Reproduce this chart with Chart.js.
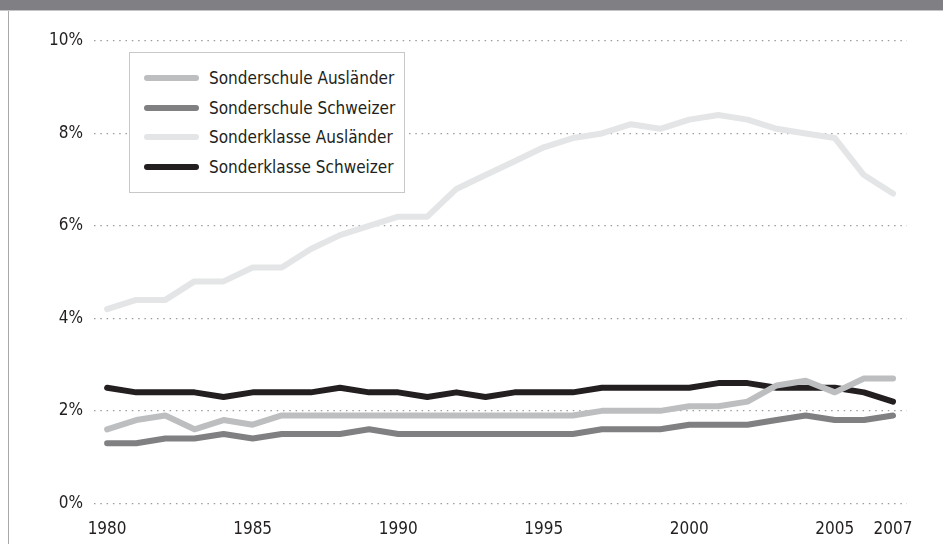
<!DOCTYPE html>
<html>
<head>
<meta charset="utf-8">
<script src="https://cdn.jsdelivr.net/npm/chart.js@4"></script>
<style>
  html, body { margin: 0; padding: 0; background: #fff; }
  #wrap { position: relative; width: 943px; height: 544px; overflow: hidden; }
  #topbar { position: absolute; left: 0; top: 0; width: 943px; height: 10px; background: #808084; border-bottom: 1px solid #c4c4c6; }
  #leftline { position: absolute; left: 8px; top: 11px; width: 1px; height: 533px; background: #a9a9ab; }
  #chart { position: absolute; left: 0; top: 0; }
  #legend { position: absolute; left: 129px; top: 52px; width: 276px; height: 141px; border: 1px solid #c8c8ca; box-sizing: border-box; background: #fff;
            font-family: 'Liberation Sans Narrow', 'DejaVu Sans Condensed', 'Open Sans', sans-serif; font-size: 17px; color: #231f20; }
  .row { position: absolute; left: 0; height: 20px; line-height: 20px; white-space: nowrap; }
  .sw { position: absolute; left: 14px; top: 7px; width: 55px; height: 6px; border-radius: 3px; }
  .tx { position: absolute; left: 79px; top: 0; }
</style>
</head>
<body>
<div id="wrap">
  <div id="topbar"></div>
  <div id="leftline"></div>
  <canvas id="chart" width="943" height="544"></canvas>
  <div id="legend"></div>
</div>
<script>
const years = [1980, 1981, 1982, 1983, 1984, 1985, 1986, 1987, 1988, 1989, 1990, 1991, 1992, 1993,
               1994, 1995, 1996, 1997, 1998, 1999, 2000, 2001, 2002, 2003, 2004, 2005, 2006, 2007];
const sonderschuleAuslaender = [1.6, 1.8, 1.9, 1.6, 1.8, 1.7, 1.9, 1.9, 1.9, 1.9, 1.9, 1.9, 1.9, 1.9,
                                1.9, 1.9, 1.9, 2.0, 2.0, 2.0, 2.1, 2.1, 2.2, 2.55, 2.65, 2.4, 2.7, 2.7];
const sonderschuleSchweizer = [1.3, 1.3, 1.4, 1.4, 1.5, 1.4, 1.5, 1.5, 1.5, 1.6, 1.5, 1.5, 1.5, 1.5,
                               1.5, 1.5, 1.5, 1.6, 1.6, 1.6, 1.7, 1.7, 1.7, 1.8, 1.9, 1.8, 1.8, 1.9];
const sonderklasseAuslaender = [4.2, 4.4, 4.4, 4.8, 4.8, 5.1, 5.1, 5.5, 5.8, 6.0, 6.2, 6.2, 6.8, 7.1,
                                7.4, 7.7, 7.9, 8.0, 8.2, 8.1, 8.3, 8.4, 8.3, 8.1, 8.0, 7.9, 7.1, 6.7];
const sonderklasseSchweizer = [2.5, 2.4, 2.4, 2.4, 2.3, 2.4, 2.4, 2.4, 2.5, 2.4, 2.4, 2.3, 2.4, 2.3,
                               2.4, 2.4, 2.4, 2.5, 2.5, 2.5, 2.5, 2.6, 2.6, 2.5, 2.5, 2.5, 2.4, 2.2];
const xTicks = [1980, 1985, 1990, 1995, 2000, 2005, 2007];
const yTicks = [0, 2, 4, 6, 8, 10];

const seriesNames = ['Sonderschule Ausländer', 'Sonderschule Schweizer', 'Sonderklasse Ausländer', 'Sonderklasse Schweizer'];
const seriesValues = [sonderschuleAuslaender, sonderschuleSchweizer, sonderklasseAuslaender, sonderklasseSchweizer];
const seriesColors = ['#bdbec0', '#808083', '#e4e5e6', '#231f20'];

const FONT = "'Liberation Sans Narrow', 'DejaVu Sans Condensed', 'Open Sans', sans-serif";

const datasets = seriesNames.map((name, i) => ({
  label: name,
  data: years.map((y, j) => ({ x: y, y: seriesValues[i][j] })),
  borderColor: seriesColors[i],
  backgroundColor: seriesColors[i],
  borderWidth: 6,
  borderJoinStyle: 'round',
  borderCapStyle: 'round',
  pointRadius: 0,
  tension: 0,
  fill: false
}));

new Chart(document.getElementById('chart'), {
  type: 'line',
  data: { datasets },
  options: {
    responsive: false,
    animation: false,
    devicePixelRatio: 1,
    layout: { padding: { left: 0, top: 41, right: 36, bottom: 0 } },
    plugins: { legend: { display: false }, tooltip: { enabled: false } },
    scales: {
      x: {
        type: 'linear',
        min: 1979.55,
        max: 2007.48,
        afterBuildTicks: axis => { axis.ticks = xTicks.map(v => ({ value: v })); },
        afterFit: axis => { axis.height = 40.7; },
        grid: { display: false },
        border: { display: false },
        ticks: {
          autoSkip: false,
          maxRotation: 0,
          padding: 8,
          color: '#231f20',
          font: { family: FONT, size: 17 },
          callback: v => String(v)
        }
      },
      y: {
        min: 0,
        max: 10,
        afterBuildTicks: axis => { axis.ticks = yTicks.map(v => ({ value: v })); },
        afterFit: axis => { axis.width = 94; },
        border: { display: false, dash: [1.5, 4.8] },
        grid: {
          color: '#9c9c9e',
          lineWidth: 1.3,
          drawTicks: false
        },
        ticks: {
          padding: 11,
          color: '#231f20',
          font: { family: FONT, size: 17 },
          callback: v => v + '%'
        }
      }
    }
  }
});

// legend box, built from the same series
const legend = document.getElementById('legend');
const rowTops = [15, 45, 74, 104];
seriesNames.forEach((name, i) => {
  const row = document.createElement('div');
  row.className = 'row';
  row.style.top = rowTops[i] + 'px';
  row.innerHTML = '<div class="sw" style="background:' + seriesColors[i] + '"></div><div class="tx"></div>';
  row.querySelector('.tx').textContent = name;
  legend.appendChild(row);
});
</script>
</body>
</html>
